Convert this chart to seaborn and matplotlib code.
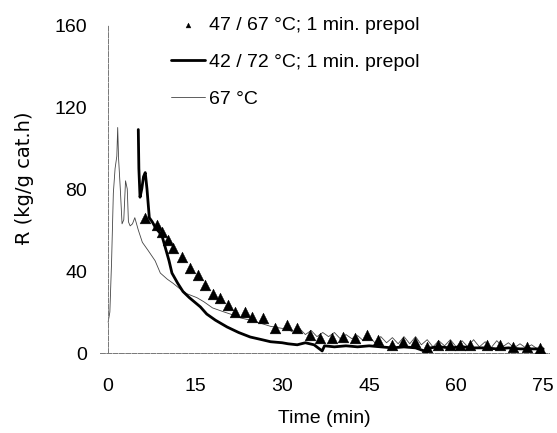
import matplotlib
matplotlib.use("Agg")
import matplotlib.pyplot as plt
import seaborn as sns
import pandas as pd

# --- data ---
thin_label = "67 °C"
thin_t = [0.0, 0.3, 0.6, 0.9, 1.2, 1.5, 1.65, 1.8, 2.1, 2.4, 2.7, 3.0, 3.3, 3.5, 3.8, 4.2, 4.6,
          5.2, 5.9, 6.9, 8.1, 9.0, 10.2, 11.2, 12.5, 13.5, 15.3, 16.5, 18, 20, 21.6,
          23, 24.5, 26.2, 28, 30, 31, 32, 33, 34, 35, 36, 37, 38, 39, 40, 41, 42, 43, 44, 45,
          46, 47, 48, 49, 50, 51, 52, 53, 54, 55, 56, 57, 58, 59, 60, 61, 62, 63, 64, 65, 66,
          67, 68, 69, 70, 71, 72, 73, 74, 75]
thin_v = [15, 20, 45, 78, 90, 96, 110, 95, 80, 63, 65, 84, 80, 64, 62, 63, 66,
          60, 54, 50, 45, 39, 36, 34, 31, 29, 27, 25, 22, 20, 18.5,
          17, 16, 14.6, 13, 12, 11.5, 10, 12, 9, 11, 8, 10, 8, 10, 7, 9, 7, 8.5, 6, 8,
          5, 8, 5, 7.5, 4.5, 8, 4.5, 8, 4, 6.5, 3, 6, 3.5, 6.5, 3, 6, 3, 6.5, 3, 5.5, 2.5,
          6, 3, 5, 2.5, 4.5, 2.5, 4, 2, 2.5]

thick_label = "42 / 72 °C; 1 min. prepol"
thick_t = [5.2, 5.3, 5.5, 5.8, 6.1, 6.4, 6.7, 6.9, 7.1, 7.6, 8.2, 8.8, 9.3, 10, 10.5, 11, 12,
           12.9, 14, 15.9, 17, 18.5, 20.5, 22.5, 24.5, 26.5, 28, 30, 31, 32.6, 34, 35.5, 36.9,
           37.3, 39, 41, 43, 45, 47, 49, 51, 53, 55, 55.5, 57, 59, 61, 63, 65, 67, 69, 71, 73, 75]
thick_v = [109, 90, 76, 80, 86, 88, 80, 73, 66, 64, 61, 59, 57, 50, 45, 39, 34,
           30, 27, 22.5, 19, 16, 12.7, 10, 7.8, 6.5, 5.5, 5, 4.5, 4, 5, 4, 1,
           3.5, 3, 3.5, 3, 3.5, 3, 2.5, 3, 2.5, 0.5, 2.5, 3, 2.5, 3, 2.5, 2.5, 2, 2.5, 2, 2, 2]

tri_label = "47 / 67 °C; 1 min. prepol"
tri_t = [6.4, 8.4, 9.3, 10.3, 11.2, 12.8, 14.1, 15.5, 16.7, 18.1, 19.3, 20.7, 21.9, 23.6,
         24.8, 26.7, 28.8, 30.9, 32.6, 34.8, 36.6, 38.6, 40.5, 42.6, 44.7, 46.6, 49.0, 50.9,
         52.9, 55.0, 56.9, 59.0, 60.7, 62.4, 65.3, 67.6, 69.8, 72.2, 74.5]
tri_v = [66, 62.5, 59, 55, 51, 47, 41.5, 38, 33, 29, 27, 23.4, 20, 20,
         17.6, 17, 12.2, 13.7, 12.2, 8.8, 7.3, 7.3, 7.8, 7.3, 8.8, 6.3, 3.9, 5.4,
         5.4, 2.9, 3.9, 3.9, 3.9, 3.9, 3.9, 3.9, 2.9, 2.9, 2.4]

x_ticks = [0, 15, 30, 45, 60, 75]
y_ticks = [0, 40, 80, 120, 160]
x_label = "Time (min)"
y_label = "Ɍ (kg/g cat.h)"

sns.set_style("white")
plt.rcParams["font.family"] = ["Liberation Sans", "DejaVu Sans"]
plt.rcParams["text.color"] = "black"
plt.rcParams["axes.labelcolor"] = "black"
plt.rcParams["xtick.color"] = "black"
plt.rcParams["ytick.color"] = "black"

fig = plt.figure(figsize=(5.57, 4.33), dpi=100)
ax = fig.add_axes([100/557, 1-353/433, 449/557, 328/433])

df_thin = pd.DataFrame({"t": thin_t, "v": thin_v})
df_thick = pd.DataFrame({"t": thick_t, "v": thick_v})
df_tri = pd.DataFrame({"t": tri_t, "v": tri_v})

sns.lineplot(data=df_thin, x="t", y="v", ax=ax, color="#444444", lw=0.6,
             label=thin_label, sort=False, estimator=None)
sns.lineplot(data=df_thick, x="t", y="v", ax=ax, color="black", lw=2.0,
             label=thick_label, sort=False, estimator=None)
sns.scatterplot(data=df_tri, x="t", y="v", ax=ax, color="black", marker="^", s=60,
                edgecolor="black", linewidth=0.3, label=tri_label, zorder=3)

ax.set_xlim(-1.4, 76)
ax.set_ylim(0, 160)
ax.set_xticks(x_ticks)
ax.set_yticks(y_ticks)
ax.tick_params(axis="both", labelsize=14, width=0.6, direction="out", labelcolor="black")
ax.tick_params(axis="y", length=5, pad=10, color="#666666")
ax.tick_params(axis="x", length=4, pad=14, color="#666666")
for side in ["top", "right"]:
    ax.spines[side].set_visible(False)
ax.spines["left"].set_position(("data", 0))
ax.spines["left"].set_bounds(0, 160)
for side in ["left", "bottom"]:
    ax.spines[side].set_color("#777777")
    ax.spines[side].set_linewidth(0.7)
    ax.spines[side].set_linestyle((0, (5, 1.5)))
ax.set_xlabel(x_label, fontsize=14, labelpad=11)
ax.set_ylabel(y_label, fontsize=14, family=["DejaVu Sans"])
ax.yaxis.set_label_coords((34-100)/449, (353-178)/328)

handles, labels = ax.get_legend_handles_labels()
order = [labels.index(tri_label), labels.index(thick_label), labels.index(thin_label)]
if ax.get_legend():
    ax.get_legend().remove()
leg = fig.legend([handles[i] for i in order], [labels[i] for i in order],
                 loc="upper left", bbox_to_anchor=(171/557, 1-16/433), frameon=False,
                 fontsize=14, handlelength=1.75, handletextpad=0.2, labelspacing=1.0,
                 borderpad=0, borderaxespad=0, markerscale=0.45)

fig.savefig("out.png", dpi=100)
